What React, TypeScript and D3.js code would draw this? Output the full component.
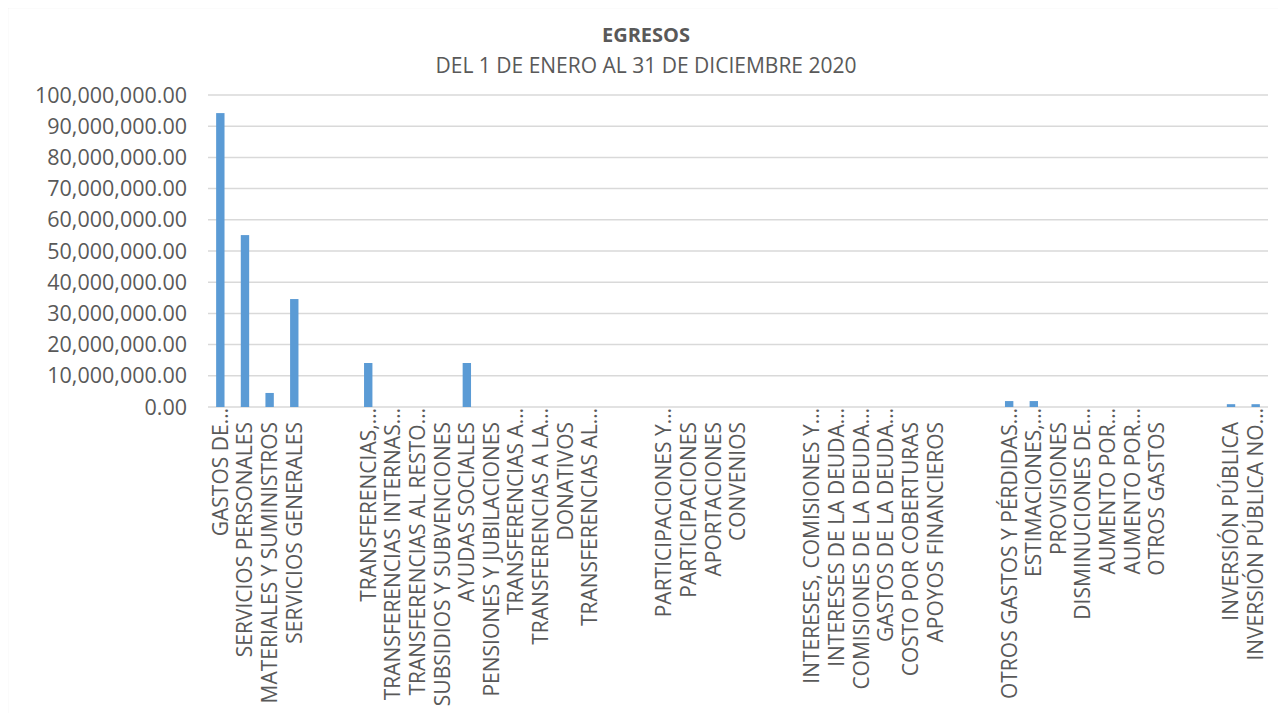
import React, { useRef, useEffect } from 'react';
import * as d3 from 'd3';

// category labels as shown on the axis ('' = empty slot between groups)
const categories: string[] = [
  'GASTOS DE…', 'SERVICIOS PERSONALES', 'MATERIALES Y SUMINISTROS', 'SERVICIOS GENERALES',
  '', '',
  'TRANSFERENCIAS,…', 'TRANSFERENCIAS INTERNAS…', 'TRANSFERENCIAS AL RESTO…', 'SUBSIDIOS Y SUBVENCIONES',
  'AYUDAS SOCIALES', 'PENSIONES Y JUBILACIONES', 'TRANSFERENCIAS A…', 'TRANSFERENCIAS A LA…',
  'DONATIVOS', 'TRANSFERENCIAS AL…',
  '', '',
  'PARTICIPACIONES Y…', 'PARTICIPACIONES', 'APORTACIONES', 'CONVENIOS',
  '', '',
  'INTERESES, COMISIONES Y…', 'INTERESES DE LA DEUDA…', 'COMISIONES DE LA DEUDA…', 'GASTOS DE LA DEUDA…',
  'COSTO POR COBERTURAS', 'APOYOS FINANCIEROS',
  '', '',
  'OTROS GASTOS Y PÉRDIDAS…', 'ESTIMACIONES,…', 'PROVISIONES', 'DISMINUCIONES DE…',
  'AUMENTO POR…', 'AUMENTO POR…', 'OTROS GASTOS',
  '', '',
  'INVERSIÓN PÚBLICA', 'INVERSIÓN PÚBLICA NO…',
];

const values: number[] = [
  94200000, 55100000, 4500000, 34600000,
  0, 0,
  14100000, 0, 0, 0, 14100000, 0, 0, 0, 0, 0,
  0, 0,
  0, 0, 0, 0,
  0, 0,
  0, 0, 0, 0, 0, 0,
  0, 0,
  1900000, 1900000, 0, 0, 0, 0, 0,
  0, 0,
  900000, 900000,
];

const yTicks: number[] = [0, 10000000, 20000000, 30000000, 40000000, 50000000, 60000000, 70000000, 80000000, 90000000, 100000000];

const chartTitle = 'EGRESOS';
const chartSubtitle = 'DEL 1 DE ENERO AL 31 DE DICIEMBRE 2020';

const W = 1286;
const H = 721;
const FONT = '"Open Sans", "Noto Sans", sans-serif';

const EgresosChart: React.FC = () => {
  const svgRef = useRef<SVGSVGElement>(null);

  useEffect(() => {
    if (!svgRef.current) return;
    const root = d3.select(svgRef.current);
    root.selectAll('*').remove();

    root.append('rect')
      .attr('width', W).attr('height', H).attr('fill', '#ffffff');

    // chart frame
    root.append('rect')
      .attr('x', 7.5).attr('y', 7.5)
      .attr('width', W - 11).attr('height', H + 10)
      .attr('fill', 'none')
      .attr('stroke', '#d0d0d0')
      .attr('stroke-width', 1.2);
    root.append('rect')
      .attr('x', W - 3).attr('y', 0)
      .attr('width', 3).attr('height', H)
      .attr('fill', '#e6e6e6');

    const left = 208;
    const right = 1268;
    const top = 95;
    const bottom = 407;

    const x = d3.scaleBand<number>()
      .domain(d3.range(categories.length))
      .range([left, right])
      .paddingInner(0.66)
      .paddingOuter(0.33);

    const y = d3.scaleLinear().domain([0, 100000000]).range([bottom, top]);

    const fmt = d3.format(',.2f');

    // gridlines
    root.append('g')
      .selectAll('line')
      .data(yTicks)
      .enter()
      .append('line')
      .attr('x1', left).attr('x2', right)
      .attr('y1', (d) => y(d)).attr('y2', (d) => y(d))
      .attr('stroke', '#d9d9d9')
      .attr('stroke-width', 1.5);

    // y labels
    root.append('g')
      .selectAll('text')
      .data(yTicks)
      .enter()
      .append('text')
      .attr('x', 187)
      .attr('y', (d) => y(d))
      .attr('dy', '0.35em')
      .attr('text-anchor', 'end')
      .attr('font-family', FONT)
      .attr('font-size', 21.5)
      .attr('fill', '#595959')
      .text((d) => fmt(d));

    // bars
    root.append('g')
      .selectAll('rect')
      .data(values.map((v, i) => ({ v, i })).filter((d) => d.v > 0))
      .enter()
      .append('rect')
      .attr('x', (d) => x(d.i)!)
      .attr('width', x.bandwidth())
      .attr('y', (d) => y(d.v))
      .attr('height', (d) => bottom - y(d.v))
      .attr('fill', '#5b9bd5');

    // x labels, rotated; truncated ones let the ellipsis hang above the text start
    root.append('g')
      .selectAll('text')
      .data(categories.map((c, i) => ({ c, i })).filter((d) => d.c !== ''))
      .enter()
      .append('text')
      .attr('transform', (d) => {
        const off = d.c.endsWith('…') ? 1 : 15;
        return `translate(${x(d.i)! + x.bandwidth() / 2}, ${bottom + off}) rotate(-90)`;
      })
      .attr('dy', '0.35em')
      .attr('text-anchor', 'end')
      .attr('font-family', FONT)
      .attr('font-size', 21)
      .attr('fill', '#595959')
      .text((d) => d.c);

    // titles
    root.append('text')
      .attr('x', 646).attr('y', 42)
      .attr('text-anchor', 'middle')
      .attr('font-family', FONT)
      .attr('font-size', 20)
      .attr('font-weight', 'bold')
      .attr('fill', '#595959')
      .text(chartTitle);

    root.append('text')
      .attr('x', 646).attr('y', 73)
      .attr('text-anchor', 'middle')
      .attr('font-family', FONT)
      .attr('font-size', 21)
      .attr('fill', '#595959')
      .text(chartSubtitle);
  }, []);

  return <svg ref={svgRef} width={W} height={H} style={{ display: 'block' }} />;
};

export default function App() {
  return (
    <div style={{ margin: -8 }}>
      <EgresosChart />
    </div>
  );
}
